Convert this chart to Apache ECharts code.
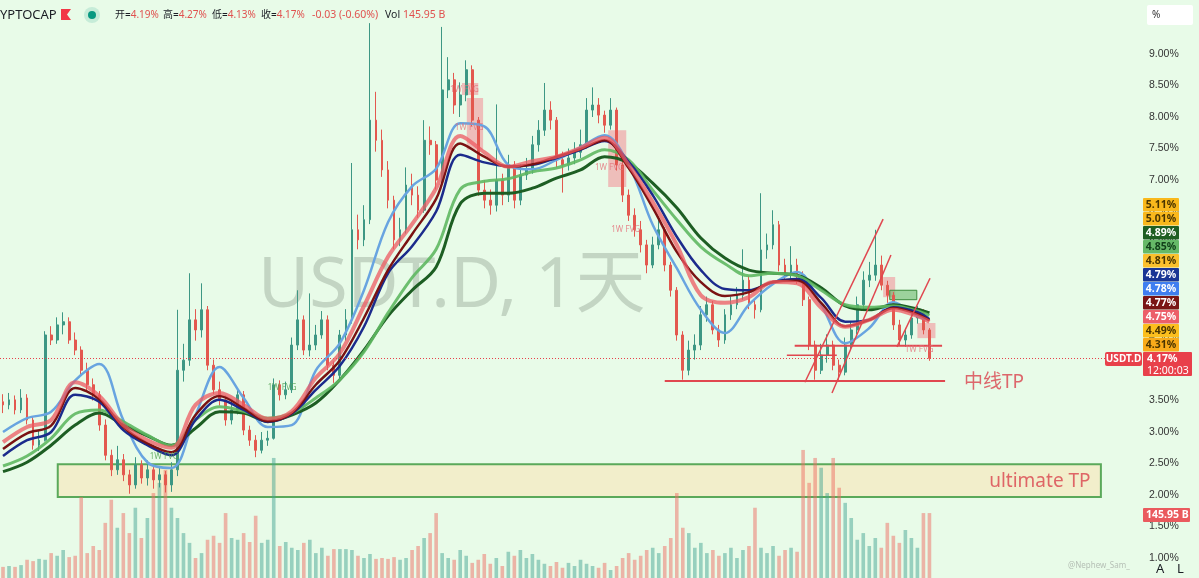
<!DOCTYPE html>
<html><head><meta charset="utf-8">
<script src="https://cdn.jsdelivr.net/npm/echarts/dist/echarts.min.js"></script>
<style>html,body{margin:0;padding:0;background:#e8fbe8;}#c{width:1199px;height:578px;}</style>
</head><body><div id="c"></div>
<script>
// ---------- DATA ----------
const opens = [
3.48,3.43,3.51,3.35,3.54,3.19,2.79,2.87,4.54,4.46,
4.70,4.75,4.46,4.30,3.98,3.75,3.59,3.11,2.63,2.40,
2.56,2.32,2.16,2.48,2.27,2.40,2.24,2.32,2.16,2.40,
3.98,4.14,4.78,4.62,4.94,4.06,3.67,3.51,3.19,3.35,
3.59,3.03,2.87,2.71,2.87,2.90,3.75,3.59,3.67,4.38,
4.78,4.30,4.38,4.54,4.78,4.06,3.90,4.54,4.78,6.21,
6.05,6.37,7.95,7.63,7.16,6.68,6.05,6.21,6.92,6.76,
6.52,7.63,7.56,7.00,8.43,8.59,8.19,8.35,8.75,7.95,
6.84,6.68,6.60,7.00,6.76,7.24,6.68,7.08,7.16,7.56,
7.79,8.11,7.95,7.32,7.24,7.35,7.44,7.56,8.11,8.19,
8.03,7.87,8.11,7.24,6.76,6.44,6.21,5.97,5.65,5.97,
6.21,5.65,5.25,4.54,3.98,4.30,4.38,4.86,5.02,4.62,
4.46,4.86,5.02,5.17,5.41,5.02,4.94,5.89,5.97,6.29,
5.65,5.49,5.65,5.49,5.10,4.38,3.98,4.22,4.38,4.06,
3.95,4.38,4.62,5.02,5.41,5.49,5.65,5.33,5.17,4.70,
4.46,4.54,4.81,4.90,4.62];
const closes = [
3.43,3.51,3.35,3.54,3.19,2.79,2.87,4.54,4.46,4.70,
4.75,4.46,4.30,3.98,3.75,3.59,3.11,2.63,2.40,2.56,
2.32,2.16,2.48,2.27,2.40,2.24,2.32,2.16,2.40,3.98,
4.14,4.78,4.62,4.94,4.06,3.67,3.51,3.19,3.35,3.59,
3.03,2.87,2.71,2.87,2.90,3.75,3.59,3.67,4.38,4.78,
4.30,4.38,4.54,4.78,4.06,3.90,4.54,4.78,6.21,6.05,
6.37,7.95,7.63,7.16,6.68,6.05,6.21,6.92,6.76,6.52,
7.63,7.56,7.00,8.43,8.59,8.19,8.35,8.75,7.95,6.84,
6.68,6.60,7.00,6.76,7.24,6.68,7.08,7.16,7.56,7.79,
8.11,7.95,7.32,7.24,7.35,7.44,7.56,8.11,8.19,8.03,
7.87,8.11,7.24,6.76,6.44,6.21,5.97,5.65,5.97,6.21,
5.65,5.25,4.54,3.98,4.30,4.38,4.86,5.02,4.62,4.46,
4.86,5.02,5.17,5.41,5.02,4.94,5.89,5.97,6.29,5.65,
5.49,5.65,5.49,5.10,4.38,3.98,4.22,4.38,4.06,3.95,
4.38,4.62,5.02,5.41,5.49,5.65,5.33,5.17,4.70,4.46,
4.54,4.81,4.90,4.62,4.17];
const lows = [
3.30,3.36,3.28,3.30,3.12,2.72,2.70,2.85,4.38,4.40,
4.55,4.40,4.22,3.90,3.66,3.50,3.02,2.55,2.30,2.32,
2.22,2.02,2.10,2.18,2.15,2.10,2.12,2.04,2.05,2.30,
3.80,4.05,4.45,4.50,3.98,3.60,3.42,3.10,3.12,3.28,
2.95,2.78,2.60,2.66,2.78,2.88,3.50,3.52,3.62,4.30,
4.22,4.20,4.30,4.48,3.98,3.78,3.85,4.45,4.72,5.90,
5.95,6.30,7.45,7.05,6.55,5.90,5.95,6.15,6.60,6.40,
6.48,7.40,6.85,6.95,8.30,8.05,8.00,8.25,7.85,6.75,
6.55,6.45,6.50,6.60,6.65,6.55,6.60,7.00,7.10,7.45,
7.70,7.80,7.20,6.80,7.15,7.25,7.35,7.50,8.00,7.90,
7.75,7.80,7.15,6.65,6.35,6.10,5.85,5.52,5.60,5.90,
5.55,5.15,4.45,3.83,3.90,4.15,4.30,4.75,4.55,4.35,
4.40,4.78,4.95,5.10,4.95,4.80,4.90,5.75,5.90,5.55,
5.38,5.42,5.35,5.00,4.30,3.83,3.92,4.10,3.98,3.83,
3.90,4.30,4.55,4.95,5.30,5.40,5.25,5.05,4.62,4.38,
4.35,4.48,4.72,4.55,4.13];
const highs = [
3.60,3.62,3.58,3.68,3.60,3.25,3.02,4.60,4.68,4.82,
4.90,4.82,4.58,4.36,4.10,3.85,3.65,3.20,2.72,2.78,
2.65,2.40,2.60,2.55,2.55,2.48,2.45,2.38,2.52,4.94,
4.40,5.52,4.95,5.36,5.00,4.15,3.80,3.58,3.50,3.70,
3.65,3.10,2.95,3.00,3.02,3.85,3.82,3.80,4.50,5.25,
4.85,5.20,4.70,4.92,4.85,4.12,4.62,4.95,7.27,6.45,
6.60,9.49,8.40,7.80,7.30,6.75,6.40,7.20,7.10,6.90,
7.95,7.85,7.62,9.43,8.95,8.70,8.55,8.90,8.82,8.00,
7.00,6.85,8.20,7.10,7.40,7.30,7.25,7.35,7.70,7.95,
8.54,8.25,8.00,7.45,7.50,7.60,7.80,8.30,8.47,8.30,
8.10,8.30,8.15,7.30,6.85,6.55,6.35,6.05,6.10,6.40,
6.25,5.70,5.30,4.60,4.45,4.55,5.00,5.15,5.08,4.70,
4.95,5.15,5.30,5.90,5.48,5.10,6.79,6.15,6.52,6.35,
5.75,5.95,5.75,5.55,5.15,4.45,4.40,4.55,4.45,4.15,
4.50,4.75,5.15,5.55,5.70,6.21,5.80,5.40,5.22,4.78,
4.65,4.92,5.00,4.95,4.65];
// volume in billions
const volumes = [
25,27,25,29,41,38,43,41,56,50,63,47,50,182,56,72,63,124,176,113,
146,101,158,90,135,191,214,243,158,135,101,79,45,56,86,95,79,146,90,86,
101,81,140,79,86,270,72,81,68,63,79,86,56,68,50,65,65,65,63,50,
45,54,43,45,43,47,41,45,63,72,90,101,146,56,45,41,63,50,34,41,
54,32,45,27,59,50,63,45,54,41,32,27,36,23,34,27,41,32,27,23,
34,18,27,45,56,41,50,63,68,56,72,90,191,113,101,68,79,56,63,50,
56,68,45,63,72,158,68,56,72,50,63,68,59,288,214,270,248,191,270,203,
169,135,86,101,72,90,68,124,95,79,108,90,68,146,146];
const totalSlots = 190;
// moving averages sampled at candle indices
const maIdx = [0,4,8,12,16,20,24,28,32,36,40,44,48,52,56,60,64,68,72,76,80,84,88,92,96,100,104,108,112,116,120,124,128,132,136,140,144,148,152,154];
const maBlue = [3.00,3.22,3.32,3.82,4.08,3.19,2.52,2.43,3.27,4.03,3.54,3.08,3.11,3.98,4.41,5.25,6.33,6.90,7.18,7.90,7.85,7.24,7.17,7.32,7.52,7.71,7.24,6.29,5.60,4.94,4.57,5.02,5.35,5.54,5.02,4.41,4.65,5.06,4.84,4.78];
const maRed = [2.84,3.08,3.19,3.79,3.57,3.11,2.87,2.75,3.43,3.62,3.43,3.21,3.33,3.86,4.25,5.00,5.78,6.30,6.87,7.70,7.44,7.21,7.30,7.37,7.51,7.67,7.24,6.65,5.97,5.17,5.05,5.14,5.38,5.36,4.97,4.67,4.78,4.94,4.84,4.75];
const maDarkRed = [2.73,2.98,3.10,3.70,3.52,3.08,2.82,2.68,3.27,3.57,3.38,3.17,3.30,3.75,4.14,4.81,5.57,6.14,6.70,7.58,7.37,7.21,7.25,7.37,7.49,7.63,7.19,6.56,5.86,5.38,5.16,5.22,5.38,5.40,5.05,4.68,4.78,4.97,4.87,4.77];
const maNavy = [2.62,2.87,3.00,3.59,3.48,3.03,2.79,2.63,3.19,3.51,3.35,3.16,3.29,3.67,4.05,4.67,5.52,5.95,6.50,7.40,7.28,7.22,7.24,7.35,7.48,7.62,7.29,6.76,6.10,5.57,5.27,5.25,5.38,5.43,5.13,4.75,4.78,4.98,4.90,4.79];
const maLightGreen = [2.46,2.62,2.90,3.29,3.35,3.16,2.95,2.78,3.19,3.40,3.33,3.22,3.30,3.54,3.83,4.27,4.89,5.45,5.90,6.85,6.98,7.02,7.13,7.19,7.32,7.48,7.32,6.84,6.37,5.94,5.67,5.48,5.52,5.48,5.25,5.02,4.98,5.00,4.92,4.85];
const maDarkGreen = [2.37,2.52,2.79,3.11,3.30,3.11,2.94,2.79,3.06,3.32,3.30,3.17,3.27,3.46,3.83,4.30,4.84,5.25,5.62,6.62,6.79,6.79,6.87,7.03,7.16,7.37,7.27,6.95,6.56,6.08,5.76,5.57,5.52,5.49,5.29,5.00,4.94,5.02,4.95,4.89];
// annotations (data coordinates: candle index, percent)
const tpLine = [[110.0,3.81],[156.6,3.81]];
const trendSegments = [
  [[131.6,4.37],[156.1,4.37]],
  [[130.3,4.22],[138.6,4.22]],
  [[133.3,3.79],[146.3,6.38]],
  [[137.8,3.62],[147.6,5.81]],
  [[148.6,4.35],[154.1,5.44]]
];
const ultimateZone = [[9.1,2.49],[182.5,1.97]];
const fvgBoxes = [
  [[76.3,8.54],[79.0,8.35]],
  [[77.1,8.30],[79.8,7.48]],
  [[100.6,7.79],[103.6,6.89]],
  [[146.3,5.46],[148.3,5.14]],
  [[152.0,4.73],[155.0,4.49]]
];
const greenBoxes = [[[147.4,5.25],[151.9,5.10]]];
const fvgLabelsPink = [[74.3,8.44],[75.1,7.83],[98.4,7.19],[101.1,6.21],[149.9,4.30]];
const fvgLabelsGreen = [[44.0,3.70],[24.4,2.60]];
const annotTexts = [[159.4,3.78,'中线TP'],[163.6,2.22,'ultimate TP']];
const lastPrice = 4.17;
const badges = [
  ['5.11%','#f9b81c','#4a3500'],['5.01%','#f9b81c','#4a3500'],['4.89%','#1e5e22','#ffffff'],
  ['4.85%','#66b968','#12401a'],['4.81%','#fbc02d','#4a3500'],['4.79%','#1a3595','#ffffff'],
  ['4.78%','#3f7ef0','#ffffff'],['4.77%','#7a1515','#ffffff'],['4.75%','#ec5f69','#ffffff'],
  ['4.49%','#fcbf1e','#4a3500'],['4.31%','#f9ab1a','#4a3500']
];
const header = [['开=','4.19%',115],['高=','4.27%',163],['低=','4.13%',212],['收=','4.17%',261]];

// ---------- CHART ----------
const chart = echarts.init(document.getElementById('c'), null, {renderer:'canvas'});
const cats = Array.from({length: totalSlots}, (_, i) => String(i));
const candleData = closes.map((c, i) => [opens[i], c, lows[i], highs[i]]);
const UP = '#3d9784', DOWN = '#e3584f';
const volData = volumes.map((v, i) => ({
  value: v,
  itemStyle: {color: closes[i] >= opens[i] ? 'rgba(70,165,148,0.5)' : 'rgba(238,110,100,0.5)'}
}));
const pair = arr => maIdx.map((x, i) => [x, arr[i]]);
function maSeries(name, arr, color, width, opacity, z) {
  return {name, type:'line', xAxisIndex:1, yAxisIndex:0, data: pair(arr), smooth:0.35,
    symbol:'none', z, lineStyle:{color, width, opacity}, silent:true};
}
const FONT = '"Noto Sans", "Noto Sans CJK SC", sans-serif';
const series = [
  {name:'zone', type:'line', xAxisIndex:1, yAxisIndex:0, data:[ultimateZone[0]], symbol:'none', z:1,
   lineStyle:{opacity:0},
   markArea:{silent:true, itemStyle:{color:'#f2eecb', borderColor:'#5aa95a', borderWidth:2},
     data:[[{coord:ultimateZone[0]},{coord:ultimateZone[1]}]]}},
  {name:'vol', type:'bar', xAxisIndex:2, yAxisIndex:1, data: volData, barWidth:'60%', z:1.5, silent:true},
  {name:'price', type:'candlestick', xAxisIndex:0, yAxisIndex:0, data: candleData, barWidth:'38%', z:2,
   itemStyle:{color:UP, color0:DOWN, borderColor:UP, borderColor0:DOWN, borderWidth:1},
   markLine:{silent:true, symbol:'none', label:{show:false},
     lineStyle:{color:'#e8404a', type:[1,2], width:1}, data:[{yAxis:lastPrice}]}},
  maSeries('ma1', maBlue, '#68a4e0', 2.5, 1, 3),
  maSeries('ma6', maDarkGreen, '#1d5e23', 3, 1, 3),
  maSeries('ma5', maLightGreen, '#5fb862', 3, 0.9, 3),
  maSeries('ma4', maNavy, '#1b2b8c', 2.5, 1, 3),
  maSeries('ma3', maDarkRed, '#7a1212', 2.5, 1, 3),
  maSeries('ma2', maRed, '#ee5a62', 4, 0.75, 3),
  {name:'tp', type:'line', xAxisIndex:1, yAxisIndex:0, data: tpLine, symbol:'none', z:4,
   lineStyle:{color:'#e0474f', width:2}},
  ...trendSegments.map((seg, k) => ({name:'trend'+k, type:'line', xAxisIndex:1, yAxisIndex:0, data: seg,
    symbol:'none', z:4, lineStyle:{color:'#e0474f', width: k === 0 ? 2 : 1.5}})),
  {name:'fvg', type:'line', xAxisIndex:1, yAxisIndex:0, data:[fvgBoxes[0][0]], symbol:'none', z:4,
   lineStyle:{opacity:0},
   markArea:{silent:true, itemStyle:{color:'rgba(244,130,140,0.5)'},
     data: fvgBoxes.map(b => [{coord:b[0]},{coord:b[1]}])}},
  {name:'gbox', type:'line', xAxisIndex:1, yAxisIndex:0, data:[greenBoxes[0][0]], symbol:'none', z:4,
   lineStyle:{opacity:0},
   markArea:{silent:true, itemStyle:{color:'rgba(92,176,92,0.55)', borderColor:'#3d8b3d', borderWidth:1},
     data: greenBoxes.map(b => [{coord:b[0]},{coord:b[1]}])}},
  {name:'fvgLblP', type:'scatter', xAxisIndex:1, yAxisIndex:0, data: fvgLabelsPink, symbolSize:0, z:5,
   label:{show:true, position:'right', distance:0, formatter:'1W FVG', color:'#e5707a', fontSize:8, fontFamily:FONT}},
  {name:'fvgLblG', type:'scatter', xAxisIndex:1, yAxisIndex:0, data: fvgLabelsGreen, symbolSize:0, z:5,
   label:{show:true, position:'right', distance:0, formatter:'1W FVG', color:'#4c9f4c', fontSize:8, fontFamily:FONT}},
  {name:'annot', type:'scatter', xAxisIndex:1, yAxisIndex:0, data: annotTexts, symbolSize:0, z:5,
   label:{show:true, position:'right', distance:2, formatter: p => p.data[2], color:'#d9424c', fontSize:19, fontFamily:FONT}}
];

const graphics = [
  {type:'text', z:0, left:258, top:252, style:{text:'USDT.D, 1天', fontSize:70, fontFamily:FONT, fill:'rgba(110,125,110,0.30)'}},
  {type:'text', z:100, x:0, y:15, style:{text:'YPTOCAP', fontSize:13, fontFamily:FONT, fill:'#1a1d24', verticalAlign:'middle'}},
  {type:'polygon', z:100, shape:{points:[[61,9],[71,9],[67,14.5],[71,20],[61,20]]}, style:{fill:'#f23645'}},
  {type:'circle', z:100, shape:{cx:92, cy:15, r:8}, style:{fill:'rgba(8,153,129,0.15)'}},
  {type:'circle', z:100, shape:{cx:92, cy:15, r:4}, style:{fill:'#089981'}},
  ...header.map(h => ({type:'text', z:100, x:h[2], y:15, style:{
    text:'{a|'+h[0]+'}{b|'+h[1]+'}', verticalAlign:'middle',
    rich:{a:{fontSize:10, fontFamily:FONT, fill:'#1a1d24'}, b:{fontSize:10, fontFamily:FONT, fill:'#e0514f'}}}})),
  {type:'text', z:100, x:312, y:15, style:{text:'-0.03 (-0.60%)', fontSize:10.5, fontFamily:FONT, fill:'#e0514f', verticalAlign:'middle'}},
  {type:'text', z:100, x:385, y:15, style:{text:'{a|Vol}{b| 145.95 B}', verticalAlign:'middle',
    rich:{a:{fontSize:10.5, fontFamily:FONT, fill:'#1a1d24'}, b:{fontSize:10.5, fontFamily:FONT, fill:'#e0514f'}}}},
  {type:'rect', z:100, shape:{x:1147, y:5, width:46, height:20, r:2}, style:{fill:'#ffffff'}},
  {type:'text', z:101, x:1152, y:15, style:{text:'%', fontSize:10, fontFamily:FONT, fill:'#333', verticalAlign:'middle'}},
  ...badges.flatMap((b, k) => [
    {type:'rect', z:100, shape:{x:1143, y:198 + k*14, width:36, height:13.5, r:1}, style:{fill:b[1]}},
    {type:'text', z:101, x:1161, y:205 + k*14, style:{text:b[0], fontSize:10.5, fontWeight:'bold', fontFamily:FONT, fill:b[2], align:'center', verticalAlign:'middle'}}
  ]),
  {type:'rect', z:100, shape:{x:1105, y:352, width:37, height:14, r:2}, style:{fill:'#e8404a'}},
  {type:'text', z:101, x:1123.5, y:359, style:{text:'USDT.D', fontSize:10, fontWeight:'bold', fontFamily:FONT, fill:'#fff', align:'center', verticalAlign:'middle'}},
  {type:'rect', z:100, shape:{x:1143, y:352, width:49, height:24, r:1}, style:{fill:'#e8404a'}},
  {type:'text', z:101, x:1147, y:359, style:{text:'4.17%', fontSize:10.5, fontWeight:'bold', fontFamily:FONT, fill:'#fff', verticalAlign:'middle'}},
  {type:'text', z:101, x:1147, y:371, style:{text:'12:00:03', fontSize:10.5, fontFamily:FONT, fill:'#fff', verticalAlign:'middle'}},
  {type:'rect', z:100, shape:{x:1143, y:508, width:47, height:14, r:1}, style:{fill:'#ea5a5e'}},
  {type:'text', z:101, x:1146, y:515, style:{text:'145.95 B', fontSize:10.5, fontWeight:'bold', fontFamily:FONT, fill:'#fff', verticalAlign:'middle'}},
  {type:'text', z:100, x:1068, y:566, style:{text:'@Nephew_Sam_', fontSize:8, fontFamily:FONT, fill:'#b6c0b6', verticalAlign:'middle'}},
  {type:'text', z:100, x:1156, y:569, style:{text:'A', fontSize:13, fontFamily:FONT, fill:'#1a1d24', verticalAlign:'middle'}},
  {type:'text', z:100, x:1177, y:569, style:{text:'L', fontSize:13, fontFamily:FONT, fill:'#1a1d24', verticalAlign:'middle'}}
];

chart.setOption({
  animation:false,
  backgroundColor:'#e8fbe8',
  grid:[
    {left:0, right:56, top:22.5, bottom:20},
    {left:0, right:56, top:0, bottom:0}
  ],
  xAxis:[
    {type:'category', gridIndex:0, data:cats, boundaryGap:true, show:false},
    {type:'value', gridIndex:0, min:-0.5, max:totalSlots-0.5, show:false},
    {type:'category', gridIndex:1, data:cats, boundaryGap:true, show:false}
  ],
  yAxis:[
    {type:'value', gridIndex:0, position:'right', min:1, max:9.5, interval:0.5, scale:true,
     axisLine:{show:false}, axisTick:{show:false}, splitLine:{show:false},
     axisLabel:{showMaxLabel:false, margin:6, fontSize:10.5, color:'#333', fontFamily:'"Liberation Sans", sans-serif',
       formatter: v => v.toFixed(2) + '%'}},
    {type:'value', gridIndex:1, min:0, max:1300, show:false}
  ],
  series,
  graphic: graphics
});
</script></body></html>
